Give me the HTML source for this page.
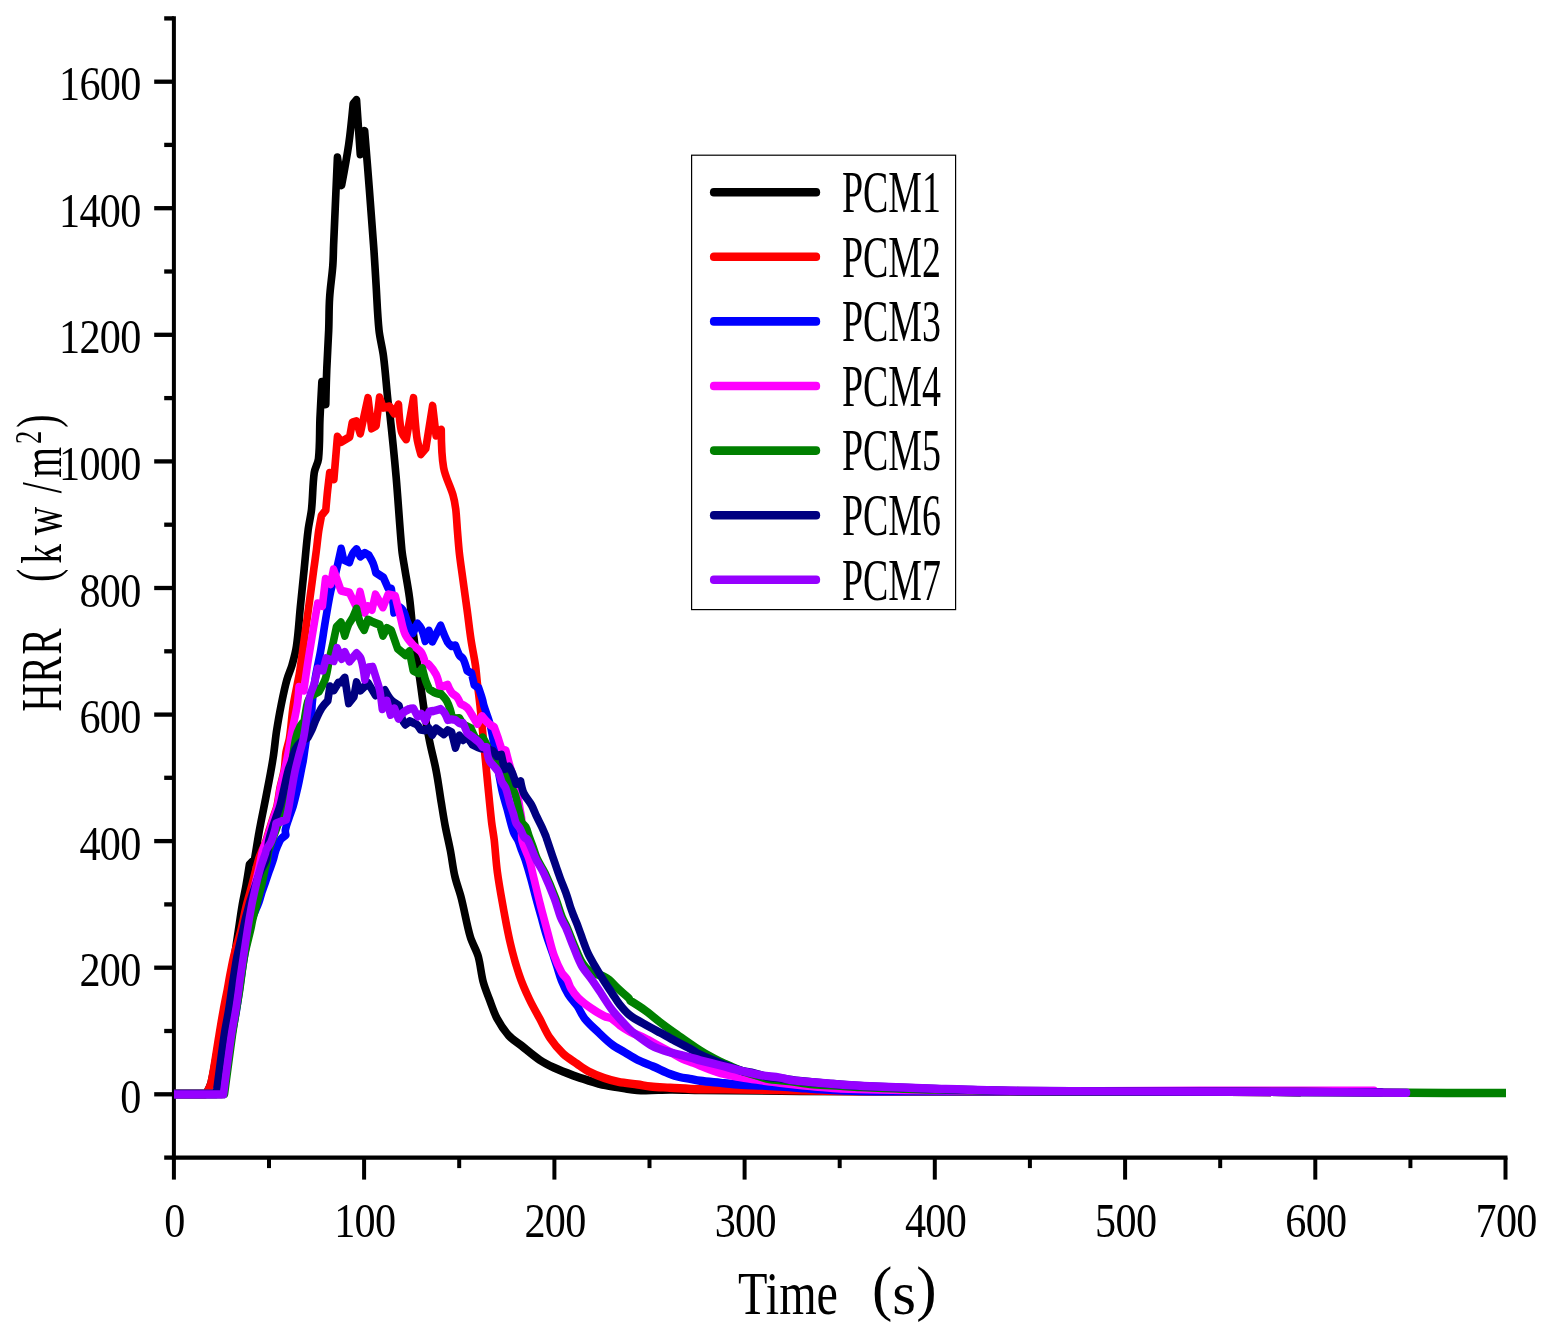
<!DOCTYPE html>
<html lang="en"><head><meta charset="utf-8"><title>HRR vs Time</title>
<style>html,body{margin:0;padding:0;background:#fff}body{width:1550px;height:1338px;overflow:hidden}svg{display:block}text{font-family:"Liberation Serif","Noto Serif CJK SC",serif;fill:#000}</style></head><body>
<svg width="1550" height="1338" viewBox="0 0 1550 1338">
<rect width="1550" height="1338" fill="#fff"/>
<g stroke="#000" fill="none" stroke-linecap="butt">
<line stroke-width="4.0" x1="173.9" y1="16.2" x2="173.9" y2="1159.7"/>
<line stroke-width="4.3" x1="171.9" y1="1157.6" x2="1507.5" y2="1157.6"/>
<line stroke-width="4.3" x1="164.2" y1="1157.6" x2="173.9" y2="1157.6"/>
<line stroke-width="4.3" x1="154.2" y1="1094.3" x2="173.9" y2="1094.3"/>
<line stroke-width="4.3" x1="164.2" y1="1031.0" x2="173.9" y2="1031.0"/>
<line stroke-width="4.3" x1="154.2" y1="967.7" x2="173.9" y2="967.7"/>
<line stroke-width="4.3" x1="164.2" y1="904.4" x2="173.9" y2="904.4"/>
<line stroke-width="4.3" x1="154.2" y1="841.1" x2="173.9" y2="841.1"/>
<line stroke-width="4.3" x1="164.2" y1="777.8" x2="173.9" y2="777.8"/>
<line stroke-width="4.3" x1="154.2" y1="714.6" x2="173.9" y2="714.6"/>
<line stroke-width="4.3" x1="164.2" y1="651.3" x2="173.9" y2="651.3"/>
<line stroke-width="4.3" x1="154.2" y1="588.0" x2="173.9" y2="588.0"/>
<line stroke-width="4.3" x1="164.2" y1="524.7" x2="173.9" y2="524.7"/>
<line stroke-width="4.3" x1="154.2" y1="461.4" x2="173.9" y2="461.4"/>
<line stroke-width="4.3" x1="164.2" y1="398.1" x2="173.9" y2="398.1"/>
<line stroke-width="4.3" x1="154.2" y1="334.8" x2="173.9" y2="334.8"/>
<line stroke-width="4.3" x1="164.2" y1="271.5" x2="173.9" y2="271.5"/>
<line stroke-width="4.3" x1="154.2" y1="208.2" x2="173.9" y2="208.2"/>
<line stroke-width="4.3" x1="164.2" y1="144.9" x2="173.9" y2="144.9"/>
<line stroke-width="4.3" x1="154.2" y1="81.7" x2="173.9" y2="81.7"/>
<line stroke-width="4.3" x1="164.2" y1="18.4" x2="173.9" y2="18.4"/>
<line stroke-width="4.0" x1="173.9" y1="1157.6" x2="173.9" y2="1179.6"/>
<line stroke-width="4.0" x1="269.0" y1="1157.6" x2="269.0" y2="1168.1"/>
<line stroke-width="4.0" x1="364.1" y1="1157.6" x2="364.1" y2="1179.6"/>
<line stroke-width="4.0" x1="459.2" y1="1157.6" x2="459.2" y2="1168.1"/>
<line stroke-width="4.0" x1="554.4" y1="1157.6" x2="554.4" y2="1179.6"/>
<line stroke-width="4.0" x1="649.5" y1="1157.6" x2="649.5" y2="1168.1"/>
<line stroke-width="4.0" x1="744.6" y1="1157.6" x2="744.6" y2="1179.6"/>
<line stroke-width="4.0" x1="839.7" y1="1157.6" x2="839.7" y2="1168.1"/>
<line stroke-width="4.0" x1="934.8" y1="1157.6" x2="934.8" y2="1179.6"/>
<line stroke-width="4.0" x1="1029.9" y1="1157.6" x2="1029.9" y2="1168.1"/>
<line stroke-width="4.0" x1="1125.1" y1="1157.6" x2="1125.1" y2="1179.6"/>
<line stroke-width="4.0" x1="1220.2" y1="1157.6" x2="1220.2" y2="1168.1"/>
<line stroke-width="4.0" x1="1315.3" y1="1157.6" x2="1315.3" y2="1179.6"/>
<line stroke-width="4.0" x1="1410.4" y1="1157.6" x2="1410.4" y2="1168.1"/>
<line stroke-width="4.0" x1="1505.5" y1="1157.6" x2="1505.5" y2="1179.6"/>
</g>
<clipPath id="plot"><rect x="173.9" y="0" width="1332.2" height="1338"/></clipPath>
<g clip-path="url(#plot)"><g transform="scale(0.910,1)" fill="none" stroke-width="8.4" stroke-linejoin="round" stroke-linecap="round">
<path stroke="#000000" d="M191.2,1094.0L226.4,1094.0C226.4,1094.0 230.8,1086.9 231.9,1083.0C236.0,1067.2 238.4,1051.0 241.8,1035.0C244.9,1020.0 248.3,1005.0 251.3,990.0C253.6,978.7 255.7,967.4 257.7,956.1C259.2,947.5 260.5,938.9 262.0,930.3C263.4,921.7 264.7,913.1 266.3,904.5C267.5,898.0 269.2,891.7 270.4,885.2C271.8,878.3 274.1,864.5 274.1,864.5L279.7,859.4C279.7,859.4 282.0,846.5 283.2,840.0C284.3,834.0 285.5,827.9 286.8,821.9C289.1,811.2 291.6,800.5 293.8,789.7C296.1,779.0 298.4,768.2 300.2,757.4C301.7,748.8 302.4,740.2 303.8,731.6C305.3,723.0 306.9,714.4 308.8,705.8C310.7,697.2 312.6,688.5 315.2,680.0C316.6,675.1 319.2,670.4 320.8,665.5C322.8,659.1 324.8,652.7 325.8,646.1C327.9,633.3 328.6,620.3 330.0,607.4C331.4,594.5 332.9,581.6 334.3,568.7C335.7,555.8 336.8,542.9 338.6,530.0C339.5,523.0 341.6,516.1 342.4,509.0C343.8,497.0 343.5,484.9 345.3,472.9C346.0,468.0 349.4,463.6 350.0,458.7C351.6,445.4 351.0,432.0 351.6,418.7C352.2,406.5 353.7,382.0 353.7,382.0L358.0,404.2C358.0,404.2 358.6,380.7 359.1,369.0C359.7,356.1 360.6,343.2 361.2,330.3C361.7,319.5 361.4,308.7 362.2,298.0C362.9,287.2 364.8,276.6 365.7,265.8C366.3,258.9 366.3,251.9 366.6,245.0C368.0,215.8 370.8,157.4 370.8,157.4L375.4,185.2C375.4,185.2 381.0,158.1 383.2,144.5C385.3,131.0 388.1,103.9 388.1,103.9L391.8,100.0L395.9,154.2L400.7,131.0C400.7,131.0 404.3,170.1 405.9,189.7C407.7,209.8 409.3,229.9 410.9,250.0C411.8,261.7 412.5,273.5 413.3,285.2C414.3,300.2 414.8,315.3 416.5,330.3C417.5,339.0 420.2,347.4 421.4,356.1C423.6,371.6 424.6,387.1 426.5,402.6C426.9,405.9 427.9,409.0 428.2,412.3C430.8,433.8 433.2,455.3 435.3,476.8C437.6,501.2 439.1,525.6 441.6,550.0C442.3,556.3 443.7,562.5 444.8,568.7C446.5,578.2 448.5,587.6 449.9,597.1C451.1,604.8 451.7,612.6 452.6,620.3C454.0,631.1 455.3,641.9 456.9,652.6C458.2,661.2 459.8,669.8 461.2,678.4C463.0,689.7 464.5,701.0 466.5,712.3C468.2,722.2 470.0,732.1 472.2,741.9C474.3,751.4 477.2,760.8 479.2,770.3C481.5,781.0 483.0,791.8 484.9,802.6C486.3,810.3 487.6,818.1 489.2,825.8C490.9,833.9 493.1,841.9 494.8,850.0C496.7,858.7 497.6,867.5 499.8,876.1C501.7,883.6 504.8,890.7 506.9,898.1C510.5,910.9 512.8,924.1 516.8,936.8C518.9,943.5 523.3,949.4 525.4,956.1C528.0,964.5 528.6,973.4 531.0,981.9C532.7,987.9 535.4,993.6 537.8,999.4C540.5,1005.9 542.7,1012.6 546.3,1018.7C549.8,1024.7 554.0,1030.5 559.0,1035.5C563.1,1039.6 568.4,1042.4 573.2,1045.8C579.8,1050.6 586.1,1055.7 593.1,1060.0C598.0,1063.0 603.3,1065.4 608.7,1067.7C615.6,1070.6 622.7,1073.1 629.9,1075.5C635.5,1077.4 641.2,1079.0 646.9,1080.6C653.0,1082.3 659.1,1084.0 665.4,1085.2C672.4,1086.6 679.5,1087.5 686.6,1088.4C693.7,1089.2 700.8,1090.1 707.9,1090.3C717.4,1090.5 726.8,1089.5 736.3,1089.5C747.3,1089.4 758.2,1089.9 769.2,1090.0C805.9,1090.4 842.5,1090.8 879.1,1091.0C928.6,1091.2 978.0,1091.2 1027.5,1091.3C1058.6,1091.4 1089.7,1091.4 1120.9,1091.4C1179.5,1091.5 1238.1,1091.6 1296.7,1091.7C1340.7,1091.8 1428.6,1092.0 1428.6,1092.0"/>
<path stroke="#FF0000" d="M191.2,1094.0L225.3,1094.0C225.3,1094.0 227.0,1092.8 227.5,1092.0C229.2,1089.1 231.1,1086.2 231.9,1083.0C235.5,1067.2 237.7,1051.1 240.7,1035.2C242.2,1026.8 243.7,1018.4 245.4,1010.0C246.7,1003.3 248.3,996.7 249.7,990.0C250.9,984.0 252.0,978.0 253.3,972.0C254.4,966.7 255.5,961.3 256.9,956.0C259.3,947.3 262.4,938.7 264.8,930.0C266.9,922.4 268.3,914.6 270.3,907.0C272.3,899.6 274.8,892.3 276.9,885.0C279.5,876.0 281.7,866.9 284.6,858.0C285.5,855.2 287.0,852.7 288.2,850.0C289.5,847.2 290.9,844.5 292.0,841.7C293.5,837.8 294.6,833.8 295.9,829.8C297.3,825.8 298.7,821.8 300.1,817.8C301.5,813.8 303.4,810.0 304.4,805.9C305.9,800.0 306.4,793.9 307.7,787.9C309.0,781.9 311.2,776.0 312.3,770.0C313.4,764.2 313.2,758.2 314.3,752.3C315.2,747.5 317.3,742.9 318.1,738.1C320.0,727.4 320.5,716.5 322.2,705.8C323.5,697.9 325.5,690.1 327.1,682.3C327.9,678.8 328.8,675.4 329.3,671.9C331.1,661.2 332.6,650.4 334.3,639.7C335.9,628.9 337.6,618.2 339.2,607.4C341.2,594.5 343.0,581.6 344.9,568.7C345.9,562.5 346.8,556.2 347.7,550.0C348.6,543.7 349.2,537.3 350.2,531.0C351.1,525.8 353.3,515.5 353.3,515.5L358.0,510.3C358.0,510.3 359.3,496.6 360.1,489.7C360.8,484.1 362.3,472.9 362.3,472.9L366.9,479.4L370.8,436.8L375.1,441.9L384.3,436.8L387.1,422.6L391.6,421.3L395.9,433.5L404.4,398.1L408.4,428.4L413.3,425.8L417.1,397.4L421.1,407.7L428.2,406.5L433.2,413.5L437.9,404.5C437.9,404.5 438.9,422.3 441.0,431.0C441.8,434.2 446.4,439.4 446.4,439.4L454.4,398.1C454.4,398.1 456.2,424.0 458.0,436.8C458.9,442.7 462.5,454.2 462.5,454.2L467.9,448.4L475.4,405.8L479.2,435.5L484.9,429.7C484.9,429.7 485.0,455.2 487.5,467.7C489.3,477.1 494.7,485.6 497.7,494.8C499.2,499.4 500.1,504.2 500.8,509.0C501.7,516.0 502.0,523.0 502.6,530.0C503.3,537.7 503.9,545.5 504.8,553.2C506.0,562.7 507.6,572.1 509.0,581.6C510.4,591.1 511.9,600.5 513.3,610.0C514.8,619.9 515.9,629.8 517.6,639.7C519.0,648.3 521.1,656.9 522.5,665.5C523.3,670.3 523.6,675.2 524.2,680.0C525.2,688.6 526.5,697.2 527.5,705.8C529.0,718.7 530.3,731.6 531.8,744.5C533.2,757.4 534.5,770.3 535.9,783.2C537.3,796.1 538.6,809.0 540.2,821.9C541.0,828.0 542.3,833.9 543.1,840.0C544.4,850.7 545.0,861.6 546.6,872.3C548.5,885.3 551.2,898.1 553.7,911.0C555.9,921.8 558.0,932.6 560.8,943.2C563.6,954.1 566.8,964.9 570.8,975.5C573.8,983.7 577.7,991.6 581.8,999.4C585.2,1006.0 589.3,1012.3 593.1,1018.7C596.9,1025.2 599.9,1032.0 604.4,1038.1C608.5,1043.7 613.2,1048.9 618.6,1053.5C623.2,1057.5 628.9,1060.5 634.2,1063.9C638.4,1066.6 642.4,1069.4 646.9,1071.6C652.4,1074.2 658.1,1076.3 664.0,1078.1C669.0,1079.7 674.3,1081.0 679.6,1081.9C686.6,1083.1 693.7,1083.6 700.8,1084.5C705.5,1085.1 710.2,1086.1 714.9,1086.5C722.0,1087.1 729.2,1087.3 736.3,1087.7C746.8,1088.2 757.3,1089.0 767.8,1089.2C783.4,1089.6 799.0,1089.3 814.6,1089.5C832.1,1089.7 849.6,1090.1 867.0,1090.3C893.0,1090.6 919.0,1091.0 945.1,1091.2C972.5,1091.4 1000.0,1091.3 1027.5,1091.3C1058.6,1091.3 1089.7,1091.4 1120.9,1091.4C1179.5,1091.5 1238.1,1091.6 1296.7,1091.7C1340.7,1091.8 1428.6,1092.0 1428.6,1092.0"/>
<path stroke="#0000FF" d="M191.2,1094.0L244.0,1094.0C244.0,1094.0 245.9,1091.5 246.2,1090.0C249.2,1073.4 251.0,1056.6 253.8,1040.0C255.6,1030.0 258.1,1020.0 259.9,1010.0C261.6,1000.7 262.8,991.3 264.3,982.0C265.2,976.3 266.1,970.7 267.0,965.0C268.1,959.0 269.1,953.0 270.3,947.0C271.5,941.3 272.8,935.6 274.2,930.0C275.2,926.0 276.0,921.9 277.5,918.0C279.5,912.6 282.4,907.6 284.5,902.3C285.9,898.9 286.7,895.3 287.9,891.9C289.2,888.4 290.6,884.9 292.0,881.4C293.3,877.9 294.6,874.4 295.9,870.9C297.3,867.4 298.8,864.0 300.0,860.5C301.2,857.0 301.9,853.4 303.2,850.0C304.3,847.2 305.6,844.4 307.0,841.7C307.5,840.8 308.0,839.8 308.8,839.0C310.4,837.5 314.1,835.0 314.1,835.0C314.1,835.0 313.3,831.5 313.6,829.8C314.5,825.7 316.2,821.8 317.6,817.8C319.0,813.8 320.9,809.9 322.2,805.9C324.1,800.0 325.6,793.9 327.1,787.9C328.6,782.0 329.8,776.0 331.1,770.0C331.7,767.2 332.4,764.5 333.0,761.7C333.7,757.7 334.3,753.8 334.9,749.8C335.6,745.8 336.2,741.8 336.9,737.8C337.7,733.8 338.7,729.9 339.6,725.9C340.5,721.9 341.7,717.9 342.3,713.9C342.9,710.0 342.7,706.0 343.2,702.0C344.1,694.1 345.0,686.2 346.4,678.4C347.9,669.7 350.3,661.2 352.0,652.6C354.1,641.9 355.7,631.1 357.7,620.3C359.5,610.8 361.1,601.3 363.3,591.9C364.8,585.4 367.3,579.1 369.0,572.6C371.1,564.7 374.9,548.7 374.9,548.7L377.5,559.7L384.0,562.3C384.0,562.3 385.9,556.5 387.5,553.9C388.5,552.1 391.8,549.1 391.8,549.1L395.9,556.5L400.9,553.0L405.2,555.2C405.2,555.2 408.8,560.6 410.1,563.5C411.4,566.4 413.0,572.6 413.0,572.6L421.4,577.7L426.5,588.1L430.0,588.7C430.0,588.7 431.7,600.9 432.4,607.0C432.6,608.9 432.9,612.6 432.9,612.6L436.3,606.0C436.3,606.0 439.9,607.5 441.3,608.7C442.6,609.8 443.5,611.2 444.2,612.6C445.7,615.9 446.5,619.6 448.0,622.9C449.7,626.4 453.7,633.2 453.7,633.2L458.7,623.5C458.7,623.5 462.0,626.7 463.0,628.7C464.9,632.6 467.3,641.0 467.3,641.0L471.4,630.6L475.1,641.6L484.2,625.5C484.2,625.5 488.8,636.9 492.0,642.3C492.9,643.9 496.3,646.1 496.3,646.1L500.5,645.5C500.5,645.5 502.9,652.2 504.8,655.2C505.8,656.8 508.1,657.4 509.0,659.0C511.0,662.6 513.3,670.6 513.3,670.6L518.2,673.2L521.1,684.8L526.0,688.1C526.0,688.1 529.0,696.0 530.3,700.0C530.9,701.9 531.1,703.9 531.8,705.8C533.9,712.3 537.1,718.6 538.8,725.2C541.5,735.7 543.0,746.4 545.1,757.0C547.2,767.9 549.0,778.9 551.5,789.7C553.1,796.2 555.3,802.6 557.3,809.0C559.6,816.8 561.4,824.7 564.3,832.3C565.4,835.1 567.8,837.3 569.1,840.0C570.7,843.2 571.7,846.7 573.1,850.0C574.4,853.3 576.0,856.6 577.3,860.0C579.5,866.2 581.5,872.4 583.4,878.7C585.3,884.9 586.9,891.2 588.8,897.4C590.6,903.6 592.6,909.9 594.5,916.1C596.4,922.3 598.1,928.6 600.2,934.7C602.4,941.0 604.9,947.2 607.3,953.4C608.7,957.3 610.1,961.3 611.5,965.2C613.4,970.3 614.8,975.6 617.0,980.6C619.1,985.3 621.4,989.9 624.3,994.2C627.1,998.4 631.1,1001.8 634.2,1005.8C637.3,1009.9 639.2,1014.8 642.6,1018.7C647.3,1023.9 652.9,1028.3 658.2,1032.9C662.8,1036.9 667.3,1041.0 672.4,1044.5C676.8,1047.5 681.9,1049.7 686.6,1052.3C691.3,1054.9 695.8,1057.8 700.8,1060.0C706.3,1062.5 712.2,1064.3 717.8,1066.5C724.0,1068.9 730.0,1071.7 736.3,1074.0C739.6,1075.2 743.1,1076.2 746.6,1077.0C750.4,1077.8 754.2,1078.3 758.0,1078.9C761.8,1079.5 765.5,1080.4 769.2,1080.8C776.8,1081.7 784.3,1082.2 791.9,1082.9C799.4,1083.6 807.0,1084.4 814.6,1084.8C822.2,1085.2 829.7,1085.2 837.3,1085.5C843.9,1085.8 850.5,1086.2 857.1,1086.6C864.5,1087.0 871.8,1087.5 879.1,1088.0C884.5,1088.3 890.0,1088.8 895.4,1089.0C911.9,1089.8 928.5,1090.7 945.1,1091.0C972.5,1091.5 1000.0,1091.2 1027.5,1091.2C1058.6,1091.3 1089.7,1091.2 1120.9,1091.3C1179.5,1091.4 1238.1,1091.6 1296.7,1091.7C1340.7,1091.8 1428.6,1092.0 1428.6,1092.0"/>
<path stroke="#FF00FF" d="M191.2,1094.0L244.0,1094.0C244.0,1094.0 249.6,1054.6 252.7,1035.0C254.1,1026.6 256.0,1018.3 257.5,1010.0C258.6,1003.3 259.6,996.7 260.7,990.0C262.4,978.7 264.1,967.3 265.9,956.0C267.3,947.3 268.8,938.7 270.3,930.0C271.7,922.3 273.1,914.6 274.7,907.0C276.0,901.0 277.6,895.0 279.1,889.0C280.9,882.0 282.9,875.0 284.6,868.0C286.1,862.0 287.0,855.9 288.8,850.0C289.7,847.1 291.5,844.5 292.5,841.7C294.0,837.8 295.1,833.8 296.5,829.8C297.8,825.8 299.2,821.8 300.7,817.8C302.1,813.8 303.9,810.0 304.9,805.9C306.4,800.0 306.9,793.9 308.2,787.9C309.6,781.9 311.4,776.0 312.9,770.0C314.3,764.1 315.6,758.2 316.8,752.3C318.2,745.4 319.3,738.5 320.8,731.6C322.6,723.0 325.0,714.5 326.5,705.8C327.6,699.6 328.6,687.0 328.6,687.0L333.8,690.6C333.8,690.6 336.4,673.9 337.8,665.5C339.6,654.7 341.6,644.0 343.5,633.2C345.3,623.3 349.1,603.5 349.1,603.5L354.2,606.1L357.7,579.0L363.3,584.2L366.5,569.4L374.7,590.6L384.0,592.6L391.8,607.4L395.7,591.9L400.9,612.6L404.5,606.1L408.7,610.0L412.6,594.5L420.8,607.4L426.5,594.5L434.3,595.8C434.3,595.8 437.9,609.6 439.9,616.5C441.6,622.5 442.5,628.8 445.3,634.5C447.2,638.4 450.6,641.6 453.7,644.8C456.5,647.7 460.6,649.4 463.0,652.6C465.2,655.6 467.3,662.9 467.3,662.9C467.3,662.9 470.4,663.8 471.4,664.8C474.4,667.7 477.3,670.9 479.2,674.5C481.4,678.5 483.5,687.4 483.5,687.4L492.0,684.8C492.0,684.8 494.3,690.3 496.3,692.6C497.7,694.4 500.5,695.1 502.0,696.8C503.8,698.9 506.2,703.9 506.2,703.9C506.2,703.9 511.3,705.9 513.3,707.7C515.7,709.9 517.2,712.9 519.0,715.5C520.9,718.3 524.6,723.9 524.6,723.9L529.6,716.1C529.6,716.1 534.5,721.6 537.4,723.9C539.0,725.3 543.1,727.1 543.1,727.1C543.1,727.1 546.0,734.4 547.4,738.1C548.8,742.0 551.5,749.7 551.5,749.7L555.8,750.3C555.8,750.3 558.6,760.3 560.1,765.2C562.4,772.5 565.2,779.7 567.1,787.1C569.0,794.3 570.1,801.7 571.4,809.0C572.2,813.3 573.3,817.6 573.6,822.0C574.1,828.0 572.4,834.1 573.6,840.0C575.1,846.8 579.3,852.8 581.5,859.4C583.7,865.7 585.1,872.3 586.8,878.7C589.1,887.3 591.3,895.9 593.7,904.5C596.4,914.0 599.2,923.5 602.0,932.9C604.3,940.7 606.2,948.5 609.1,956.1C611.4,961.9 614.2,967.5 617.5,972.9C618.9,975.3 621.6,977.0 623.2,979.4C625.0,982.2 625.6,985.6 627.5,988.4C629.8,991.9 632.4,995.2 635.6,998.1C639.9,1002.0 644.8,1005.3 649.8,1008.4C654.3,1011.3 659.0,1013.9 664.0,1016.1C666.6,1017.3 669.9,1017.3 672.4,1018.7C675.6,1020.4 678.0,1023.2 681.0,1025.2C684.6,1027.5 688.4,1029.7 692.3,1031.6C697.6,1034.1 703.3,1035.9 708.7,1038.3C714.3,1040.8 719.7,1043.8 725.2,1046.5C729.3,1048.5 733.4,1050.5 737.5,1052.5C741.5,1054.5 745.3,1056.8 749.5,1058.5C753.5,1060.2 757.9,1061.3 762.1,1062.8C764.5,1063.7 766.8,1064.6 769.2,1065.5C772.9,1066.9 776.5,1068.3 780.2,1069.5C784.1,1070.8 787.9,1072.2 791.9,1073.1C799.4,1074.8 807.0,1076.1 814.6,1077.3C822.1,1078.5 829.7,1079.4 837.3,1080.4C843.9,1081.2 850.5,1082.0 857.1,1082.7C864.5,1083.5 871.8,1084.3 879.1,1085.0C884.5,1085.5 890.0,1086.1 895.4,1086.5C904.8,1087.2 914.3,1088.2 923.7,1088.5C958.3,1089.5 992.9,1089.9 1027.5,1090.3C1058.6,1090.7 1089.7,1090.9 1120.9,1091.0C1150.2,1091.1 1179.5,1091.1 1208.8,1091.1C1245.4,1091.0 1282.1,1090.7 1318.7,1090.7C1382.4,1090.6 1509.9,1090.8 1509.9,1090.8"/>
<path stroke="#008000" d="M191.2,1094.0L246.7,1094.0C246.7,1094.0 252.4,1054.8 255.4,1035.2C256.7,1026.8 258.2,1018.4 259.7,1010.0C260.9,1003.3 262.3,996.7 263.4,990.0C265.3,978.7 266.4,967.3 268.7,956.1C270.4,947.4 273.1,938.9 275.3,930.3C276.3,926.2 277.0,922.1 278.1,918.0C279.5,912.7 281.2,907.5 282.7,902.3C283.7,898.8 284.7,895.4 285.6,891.9C286.6,888.4 287.6,884.9 288.5,881.4C289.3,877.9 289.9,874.4 290.8,870.9C291.6,867.4 292.9,864.0 293.6,860.5C294.4,857.0 294.2,853.4 295.4,850.0C299.5,837.9 305.2,826.3 309.5,814.2C311.1,809.6 312.1,804.8 313.2,800.0C314.8,793.4 316.2,786.7 317.6,780.0C318.8,774.0 319.8,768.0 320.9,762.0C322.3,753.9 323.1,745.8 325.2,737.8C326.2,733.7 328.1,729.7 330.2,725.9C331.2,724.1 334.4,721.0 334.4,721.0C334.4,721.0 335.0,716.3 335.5,713.9C336.3,709.9 336.8,705.9 338.1,702.0C338.9,699.8 341.8,696.0 341.8,696.0L350.5,691.6C350.5,691.6 356.1,683.1 357.7,678.4C359.9,672.1 360.5,665.5 362.0,659.0C363.3,653.4 364.8,647.9 366.2,642.3C367.4,637.1 369.8,626.8 369.8,626.8L374.7,622.3L378.9,635.8C378.9,635.8 381.4,627.9 383.2,624.2C384.3,621.9 386.2,620.0 387.5,617.7C389.1,614.8 391.8,608.7 391.8,608.7C391.8,608.7 394.1,618.3 395.9,622.9C396.9,625.4 400.2,630.0 400.2,630.0L404.2,619.7C404.2,619.7 407.2,621.0 408.7,621.6C411.5,622.7 417.3,624.8 417.3,624.8L420.8,635.8L425.1,628.1L430.0,630.6L437.0,648.7L445.6,655.2L449.9,651.3L454.1,670.6L459.8,673.2L464.1,668.1C464.1,668.1 466.4,676.8 467.9,681.0C469.0,683.9 471.9,689.4 471.9,689.4C471.9,689.4 476.6,692.2 479.2,693.2C481.0,693.9 484.9,694.2 484.9,694.2C484.9,694.2 489.1,698.2 490.7,700.6C492.5,703.4 493.7,706.6 494.8,709.7C495.9,712.6 497.0,718.7 497.0,718.7L504.8,718.1L509.0,724.5L517.6,728.4C517.6,728.4 520.2,734.1 521.8,736.8C522.8,738.6 525.3,742.0 525.3,742.0L530.3,737.4C530.3,737.4 533.5,742.0 534.6,744.5C536.4,748.7 538.8,757.4 538.8,757.4C538.8,757.4 544.9,761.3 547.4,763.9C550.7,767.4 553.3,771.4 555.8,775.5C558.1,779.2 559.5,783.3 561.5,787.1C562.8,789.3 564.8,791.2 565.7,793.5C567.7,798.5 568.6,803.8 570.0,809.0C571.2,813.7 573.5,823.2 573.5,823.2C573.5,823.2 576.8,825.5 577.8,827.1C579.5,829.9 580.1,833.1 581.3,836.1C582.7,839.6 584.2,843.0 585.6,846.5C587.3,850.7 588.4,855.0 590.4,859.0C592.9,864.0 596.6,868.5 599.1,873.5C603.2,881.5 606.9,889.7 610.4,898.0C613.1,904.2 614.9,910.8 617.6,917.0C619.2,920.7 621.6,924.1 623.3,927.7C626.3,934.1 628.8,940.6 631.9,947.0C634.6,952.7 636.9,958.7 640.7,964.0C642.9,967.2 645.9,970.1 649.5,972.0C654.0,974.4 659.5,974.9 664.3,976.8C666.3,977.6 668.1,978.7 669.7,980.0C673.2,982.8 676.2,986.1 679.6,989.0C683.2,992.1 687.3,994.9 690.9,998.1C691.6,998.7 692.3,1000.5 692.3,1000.5C692.3,1000.5 703.4,1006.7 708.7,1010.2C714.4,1013.9 719.6,1018.2 725.2,1022.1C730.5,1025.8 736.0,1029.4 741.5,1033.0C747.0,1036.6 752.5,1040.0 758.0,1043.5C761.7,1045.8 765.4,1048.1 769.2,1050.3C772.8,1052.4 776.5,1054.4 780.2,1056.3C784.0,1058.3 787.9,1060.2 791.9,1061.9C795.2,1063.4 798.7,1064.7 802.2,1066.0C806.3,1067.6 810.4,1069.3 814.6,1070.7C819.6,1072.3 824.6,1073.6 829.7,1075.0C833.8,1076.2 837.9,1077.8 842.2,1078.5C850.7,1079.9 859.3,1080.2 867.8,1081.2C876.3,1082.2 884.8,1083.6 893.3,1084.3C903.2,1085.1 913.2,1085.3 923.1,1085.8C930.4,1086.2 937.7,1086.7 945.1,1087.0C972.5,1088.0 1000.0,1089.0 1027.5,1089.6C1058.6,1090.3 1089.7,1090.9 1120.9,1091.1C1179.5,1091.5 1238.1,1091.4 1296.7,1091.6C1340.7,1091.7 1384.6,1091.8 1428.6,1092.0C1467.4,1092.2 1506.2,1092.6 1545.1,1092.8C1581.5,1093.0 1654.5,1093.0 1654.5,1093.0"/>
<path stroke="#000080" d="M191.2,1094.0L237.7,1094.0C237.7,1094.0 243.2,1054.8 246.4,1035.2C247.7,1026.8 249.8,1018.4 251.3,1010.0C252.6,1002.8 253.6,995.6 254.8,988.4C256.7,977.6 258.3,966.8 260.5,956.1C262.4,947.4 264.9,938.9 267.0,930.3C268.0,926.2 268.8,922.1 269.9,918.0C270.6,915.3 271.5,912.7 272.3,910.0C273.1,907.4 273.7,904.8 274.5,902.3C275.7,898.8 277.0,895.4 278.2,891.9C279.5,888.4 280.9,884.9 282.2,881.4C283.5,877.9 284.7,874.3 286.3,870.9C287.9,867.3 290.6,864.2 292.0,860.5C293.3,857.1 293.7,853.5 294.3,850.0C294.8,847.3 294.6,844.4 295.2,841.7C296.0,837.7 297.4,833.7 298.7,829.8C300.0,825.8 301.7,821.8 303.2,817.8C304.7,813.8 306.5,809.9 307.7,805.9C309.5,800.0 310.8,793.9 312.3,787.9C313.8,781.9 315.1,775.9 316.9,770.0C317.8,767.2 319.3,764.5 320.3,761.7C321.8,757.8 322.3,753.5 324.3,749.8C325.8,746.9 328.2,744.3 330.8,742.0C333.0,740.0 338.5,737.2 338.5,737.2C338.5,737.2 341.7,731.7 343.1,728.9C344.5,726.0 345.6,722.8 347.0,719.9C349.1,715.8 351.0,711.7 353.6,707.9C355.4,705.3 360.2,700.8 360.2,700.8L362.6,686.5L366.9,690.3L371.9,682.6L374.7,682.3L378.9,677.7L383.2,703.2L388.9,696.8L391.8,682.3L395.9,690.6L404.5,683.0L412.6,695.3L422.9,690.2C422.9,690.2 427.0,697.3 430.0,700.3C432.3,702.6 438.5,705.8 438.5,705.8C438.5,705.8 440.7,715.4 442.4,720.0C443.0,721.6 445.3,724.5 445.3,724.5L450.2,721.3C450.2,721.3 453.6,722.5 455.2,723.2C456.4,723.8 457.7,724.3 458.7,725.2C460.1,726.5 462.2,729.7 462.2,729.7L467.3,730.3L471.4,728.4L475.1,734.8L479.2,728.4L487.8,734.2L492.0,730.3L496.3,732.3L500.5,747.7L504.8,735.5L509.0,740.0L513.3,736.8L519.0,744.5C519.0,744.5 524.5,747.1 527.5,748.0C529.6,748.6 531.9,748.5 534.1,749.0C536.6,749.5 541.6,751.0 541.6,751.0L545.9,756.1L550.9,754.8L554.4,769.0L559.3,766.5C559.3,766.5 562.0,770.7 563.0,772.9C564.6,776.5 567.1,783.9 567.1,783.9L572.1,781.3C572.1,781.3 573.8,789.7 575.7,793.5C577.9,797.7 581.7,801.1 584.2,805.2C586.4,808.9 587.9,813.0 589.9,816.8C591.7,820.3 593.7,823.6 595.5,827.1C597.0,830.1 598.4,833.1 599.8,836.1C600.3,837.4 600.7,838.7 601.2,840.0C603.1,845.2 605.0,850.3 606.9,855.5C608.7,860.2 610.5,865.0 612.3,869.7C613.5,872.7 614.6,875.7 615.8,878.7C617.6,883.0 619.6,887.3 621.4,891.6C622.2,893.5 622.9,895.5 623.6,897.4C624.8,900.6 625.7,903.9 626.9,907.1C628.0,910.1 629.3,913.1 630.5,916.1C631.7,918.7 633.0,921.3 634.1,923.9C635.6,927.5 636.9,931.1 638.4,934.7C640.9,940.9 643.2,947.3 646.2,953.4C648.2,957.5 650.8,961.3 653.3,965.2C656.9,970.8 660.5,976.4 664.3,981.9C666.9,985.6 669.7,989.2 672.4,992.9C675.3,996.8 677.8,1000.9 681.0,1004.5C684.4,1008.4 688.0,1012.3 692.3,1015.4C697.3,1019.0 703.2,1021.5 708.7,1024.4C714.1,1027.2 719.7,1029.9 725.2,1032.6C730.6,1035.3 736.0,1038.1 741.5,1040.8C747.0,1043.4 752.6,1045.8 758.0,1048.5C761.9,1050.4 765.3,1053.0 769.2,1054.7C776.6,1057.9 784.2,1060.7 791.9,1063.4C799.4,1066.0 806.9,1068.6 814.6,1070.7C818.3,1071.7 822.2,1071.9 825.9,1072.7C831.4,1073.9 836.7,1075.6 842.2,1076.6C847.8,1077.6 853.6,1077.9 859.2,1078.6C866.6,1079.5 873.9,1080.5 881.3,1081.2C890.8,1082.1 900.4,1082.9 909.9,1083.6C921.6,1084.5 933.3,1085.5 945.1,1086.0C972.6,1087.2 1000.1,1088.1 1027.7,1088.9C1058.7,1089.8 1089.8,1090.7 1120.9,1091.0C1179.5,1091.6 1238.1,1091.3 1296.7,1091.5C1340.7,1091.6 1384.6,1091.8 1428.6,1092.0C1458.2,1092.1 1517.6,1092.3 1517.6,1092.3"/>
<path stroke="#9600FF" d="M191.2,1094.4L245.6,1094.4C245.6,1094.4 251.1,1054.9 254.3,1035.2C255.6,1026.8 257.6,1018.4 259.1,1010.0C260.3,1003.3 261.3,996.7 262.3,990.0C262.7,987.3 263.0,984.6 263.4,981.9C264.7,973.3 266.2,964.7 267.6,956.1C269.0,947.5 270.4,938.9 271.9,930.3C273.2,922.6 274.6,914.8 276.2,907.1C277.4,901.0 278.9,895.0 280.4,889.0C282.2,882.1 283.9,875.2 286.0,868.4C287.7,863.2 289.9,858.1 291.8,852.9C292.1,852.0 292.0,850.9 292.5,850.0C294.1,847.1 296.5,844.7 297.9,841.7C299.7,837.9 300.9,833.8 302.1,829.8C302.7,827.7 303.3,823.5 303.3,823.5L314.6,819.5C314.6,819.5 316.7,810.4 317.6,805.9C318.8,799.9 319.7,793.9 320.9,787.9C322.0,781.9 323.1,775.9 324.5,770.0C325.5,765.8 326.7,761.6 327.9,757.4C329.7,751.0 332.1,744.6 333.5,738.1C335.4,729.6 336.4,720.9 337.8,712.3C338.7,706.7 339.2,701.0 340.7,695.5C341.6,691.8 343.8,688.4 344.9,684.8C346.6,679.5 349.1,668.7 349.1,668.7L354.8,670.6L358.4,658.4L366.9,661.0L370.4,648.1L375.4,659.0L378.9,651.9L384.0,661.6L391.8,653.2C391.8,653.2 395.9,656.7 396.7,659.0C399.0,665.7 400.9,679.7 400.9,679.7L404.5,667.4L409.5,666.8C409.5,666.8 412.8,676.2 414.4,681.0C415.4,684.1 416.6,687.1 417.3,690.3C418.5,696.5 420.1,709.0 420.1,709.0L425.1,700.6L429.2,714.8L433.5,708.4L437.8,718.7C437.8,718.7 440.7,714.5 442.7,712.9C444.8,711.2 447.2,710.0 449.7,709.0C451.1,708.4 454.3,708.4 454.3,708.4L458.9,716.5L463.2,713.8L467.4,721.0L471.6,711.7C471.6,711.7 474.8,711.3 476.4,711.0C479.0,710.4 484.2,709.0 484.2,709.0C484.2,709.0 487.4,711.4 488.5,712.9C490.0,715.1 492.0,720.0 492.0,720.0C492.0,720.0 494.8,719.4 496.3,719.4C497.7,719.4 500.5,720.0 500.5,720.0L504.8,723.2L509.0,723.2L513.3,732.9C513.3,732.9 517.1,735.5 519.0,736.8C521.4,738.5 523.9,740.0 526.0,741.9C527.7,743.4 530.3,747.1 530.3,747.1L534.6,747.1C534.6,747.1 535.6,755.9 537.4,760.0C538.5,762.6 541.2,764.3 543.1,766.5C544.5,768.2 546.3,769.7 547.4,771.6C549.2,774.9 549.9,778.6 551.5,781.9C552.7,784.2 554.8,786.0 555.8,788.4C557.7,793.0 558.6,797.9 560.1,802.6C561.4,806.5 563.0,810.3 564.3,814.2C565.3,817.2 565.7,820.4 567.1,823.2C568.1,825.2 570.2,826.5 571.4,828.4C573.1,831.1 573.8,834.2 575.7,836.8C576.7,838.2 579.0,838.5 579.9,840.0C583.6,846.2 585.7,853.1 589.1,859.4C591.7,864.2 595.2,868.6 597.7,873.5C601.8,881.6 605.5,889.8 609.0,898.1C611.7,904.4 613.3,911.1 616.0,917.4C617.6,921.0 620.1,924.2 621.8,927.7C624.8,934.1 627.3,940.7 630.2,947.1C633.0,953.2 635.3,959.5 638.8,965.2C641.9,970.3 646.4,974.6 650.1,979.4C653.9,984.3 657.5,989.3 661.1,994.2C664.9,999.4 668.4,1004.7 672.4,1009.7C675.0,1012.9 678.1,1015.8 681.0,1018.7C684.7,1022.4 688.3,1026.2 692.3,1029.6C696.2,1032.9 700.4,1035.8 704.6,1038.6C708.6,1041.3 712.6,1044.0 716.9,1046.1C720.8,1048.0 725.0,1049.2 729.2,1050.5C733.3,1051.7 737.4,1052.5 741.5,1053.5C747.0,1054.8 752.5,1056.0 758.0,1057.3C761.8,1058.2 765.5,1059.4 769.2,1060.3C776.8,1062.1 784.3,1063.7 791.9,1065.5C799.5,1067.3 807.0,1069.3 814.6,1070.9C822.1,1072.5 829.6,1074.1 837.3,1075.3C843.8,1076.3 850.5,1076.6 857.1,1077.6C860.7,1078.1 864.2,1079.3 867.8,1079.8C876.3,1080.9 884.8,1081.5 893.3,1082.2C903.2,1083.0 913.1,1083.8 923.1,1084.5C930.4,1085.0 937.7,1085.5 945.1,1085.8C972.6,1086.9 1000.1,1087.9 1027.7,1088.7C1058.7,1089.6 1089.8,1090.6 1120.9,1090.9C1179.5,1091.5 1238.1,1091.3 1296.7,1091.5C1340.7,1091.7 1384.6,1091.8 1428.6,1092.0C1467.6,1092.2 1545.6,1092.7 1545.6,1092.7"/>
</g></g>
<text transform="scale(0.8700,1)" x="150.34" y="1113.0" font-size="48.5" text-anchor="middle">0</text>
<text transform="scale(0.8700,1)" x="103.45 126.90 150.34" y="986.4" font-size="48.5" text-anchor="middle">200</text>
<text transform="scale(0.8700,1)" x="103.45 126.90 150.34" y="859.8" font-size="48.5" text-anchor="middle">400</text>
<text transform="scale(0.8700,1)" x="103.45 126.90 150.34" y="733.3" font-size="48.5" text-anchor="middle">600</text>
<text transform="scale(0.8700,1)" x="103.45 126.90 150.34" y="606.7" font-size="48.5" text-anchor="middle">800</text>
<text transform="scale(0.8700,1)" x="80.00 103.45 126.90 150.34" y="480.1" font-size="48.5" text-anchor="middle">1000</text>
<text transform="scale(0.8700,1)" x="80.00 103.45 126.90 150.34" y="353.5" font-size="48.5" text-anchor="middle">1200</text>
<text transform="scale(0.8700,1)" x="80.00 103.45 126.90 150.34" y="226.9" font-size="48.5" text-anchor="middle">1400</text>
<text transform="scale(0.8700,1)" x="80.00 103.45 126.90 150.34" y="100.4" font-size="48.5" text-anchor="middle">1600</text>
<text transform="scale(0.8700,1)" x="201.03" y="1237.3" font-size="48.5" text-anchor="middle">0</text>
<text transform="scale(0.8700,1)" x="396.24 419.69 443.14" y="1237.3" font-size="48.5" text-anchor="middle">100</text>
<text transform="scale(0.8700,1)" x="614.90 638.34 661.79" y="1237.3" font-size="48.5" text-anchor="middle">200</text>
<text transform="scale(0.8700,1)" x="833.55 857.00 880.45" y="1237.3" font-size="48.5" text-anchor="middle">300</text>
<text transform="scale(0.8700,1)" x="1052.21 1075.66 1099.10" y="1237.3" font-size="48.5" text-anchor="middle">400</text>
<text transform="scale(0.8700,1)" x="1270.86 1294.31 1317.76" y="1237.3" font-size="48.5" text-anchor="middle">500</text>
<text transform="scale(0.8700,1)" x="1489.52 1512.97 1536.41" y="1237.3" font-size="48.5" text-anchor="middle">600</text>
<text transform="scale(0.8700,1)" x="1708.17 1731.62 1755.07" y="1237.3" font-size="48.5" text-anchor="middle">700</text>
<text y="1314.2" font-size="61"><tspan x="738" textLength="100" lengthAdjust="spacingAndGlyphs">Time</tspan> <tspan x="872" dy="-5.5 5.5 -5.5" textLength="64.5" lengthAdjust="spacingAndGlyphs">(s)</tspan></text>
<g transform="translate(61.3,710.5) rotate(-90)">
<text transform="scale(0.700,1)" text-anchor="middle" font-size="56.5" x="18.6 58.6 98.4 142.9 192.9 223.7 270.9 318.1 354.3 390.0 413.4" y="0.0 0.0 0.0 0.0 -5.5 0.0 0.0 0.0 0.0 -20.5 -5.5">HRR (kw/m<tspan font-size="37.7">2</tspan>)</text>
</g>
<rect x="691.6" y="155.2" width="264" height="454.4" fill="#fff" stroke="#000" stroke-width="1.2"/>
<line transform="scale(0.910,1)" x1="784.4" y1="192.2" x2="897.0" y2="192.2" stroke="#000000" stroke-width="8.6" stroke-linecap="round"/>
<text x="842" y="212.0" font-size="60" textLength="99" lengthAdjust="spacingAndGlyphs">PCM1</text>
<line transform="scale(0.910,1)" x1="784.4" y1="256.8" x2="897.0" y2="256.8" stroke="#FF0000" stroke-width="8.6" stroke-linecap="round"/>
<text x="842" y="276.6" font-size="60" textLength="99" lengthAdjust="spacingAndGlyphs">PCM2</text>
<line transform="scale(0.910,1)" x1="784.4" y1="321.4" x2="897.0" y2="321.4" stroke="#0000FF" stroke-width="8.6" stroke-linecap="round"/>
<text x="842" y="341.2" font-size="60" textLength="99" lengthAdjust="spacingAndGlyphs">PCM3</text>
<line transform="scale(0.910,1)" x1="784.4" y1="386.0" x2="897.0" y2="386.0" stroke="#FF00FF" stroke-width="8.6" stroke-linecap="round"/>
<text x="842" y="405.8" font-size="60" textLength="99" lengthAdjust="spacingAndGlyphs">PCM4</text>
<line transform="scale(0.910,1)" x1="784.4" y1="450.6" x2="897.0" y2="450.6" stroke="#008000" stroke-width="8.6" stroke-linecap="round"/>
<text x="842" y="470.4" font-size="60" textLength="99" lengthAdjust="spacingAndGlyphs">PCM5</text>
<line transform="scale(0.910,1)" x1="784.4" y1="515.2" x2="897.0" y2="515.2" stroke="#000080" stroke-width="8.6" stroke-linecap="round"/>
<text x="842" y="535.0" font-size="60" textLength="99" lengthAdjust="spacingAndGlyphs">PCM6</text>
<line transform="scale(0.910,1)" x1="784.4" y1="579.8" x2="897.0" y2="579.8" stroke="#9600FF" stroke-width="8.6" stroke-linecap="round"/>
<text x="842" y="599.6" font-size="60" textLength="99" lengthAdjust="spacingAndGlyphs">PCM7</text>
</svg></body></html>
